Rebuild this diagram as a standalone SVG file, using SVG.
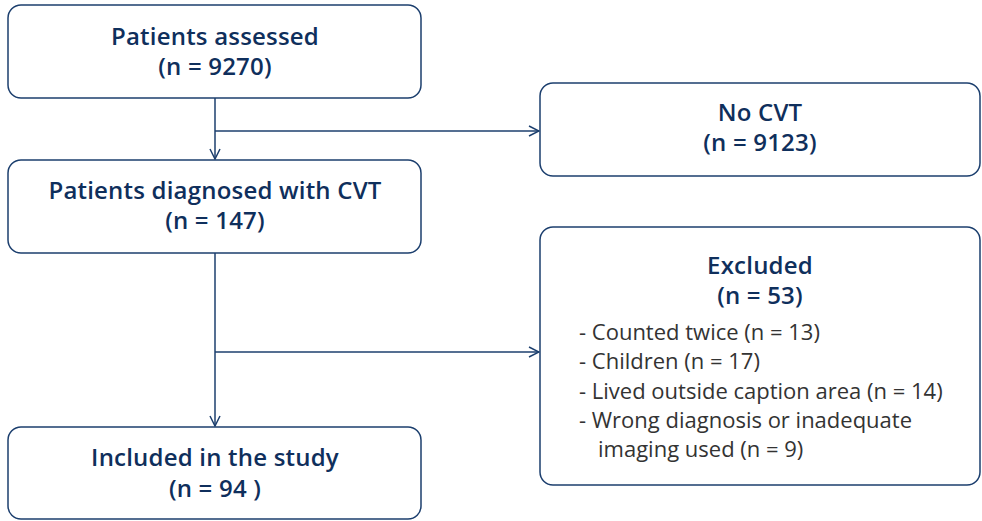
<svg xmlns="http://www.w3.org/2000/svg" width="982" height="521" viewBox="0 0 982 521">
<defs>
<style>
.box{fill:#fff;stroke:#1c3f6e;stroke-width:1.5}
.t{font-family:"Open Sans","Noto Sans",sans-serif;font-size:24px;font-weight:600;letter-spacing:0.2px;fill:#0f2f5c;text-anchor:middle}
.b{font-family:"Open Sans","Noto Sans",sans-serif;font-size:22px;font-weight:400;fill:#333}
.c{fill:none;stroke:#1c3f6e;stroke-width:1.5}
</style>
<marker id="ah" viewBox="0 0 12 12" refX="11" refY="6" markerWidth="12" markerHeight="12" markerUnits="userSpaceOnUse" orient="auto">
<path d="M1,1 L11,6 L1,11" fill="none" stroke="#1c3f6e" stroke-width="1.5"/>
</marker>
</defs>
<rect width="982" height="521" fill="#fff"/>
<g id="connectors">
<path class="c" d="M215,98 V159" marker-end="url(#ah)"/>
<path class="c" d="M215,131 H539" marker-end="url(#ah)"/>
<path class="c" d="M215,253 V426" marker-end="url(#ah)"/>
<path class="c" d="M215,352 H539" marker-end="url(#ah)"/>
</g>
<g id="assessed">
<rect class="box" x="8" y="5" width="413" height="93" rx="13"/>
<text class="t" x="215" y="45">Patients assessed</text>
<text class="t" x="215" y="75">(n = 9270)</text>
</g>
<g id="nocvt">
<rect class="box" x="540" y="83" width="440" height="93" rx="13"/>
<text class="t" x="760" y="121">No CVT</text>
<text class="t" x="760" y="151">(n = 9123)</text>
</g>
<g id="diagnosed">
<rect class="box" x="8" y="160" width="413" height="93" rx="13"/>
<text class="t" x="215" y="199">Patients diagnosed with CVT</text>
<text class="t" x="215" y="229">(n = 147)</text>
</g>
<g id="excluded">
<rect class="box" x="540" y="227" width="440" height="258" rx="13"/>
<text class="t" x="760" y="274">Excluded</text>
<text class="t" x="760" y="304">(n = 53)</text>
<text class="b" x="579" y="340">- Counted twice (n = 13)</text>
<text class="b" x="579" y="369">- Children (n = 17)</text>
<text class="b" x="579" y="399">- Lived outside caption area (n = 14)</text>
<text class="b" x="579" y="428">- Wrong diagnosis or inadequate</text>
<text class="b" x="598" y="457">imaging used (n = 9)</text>
</g>
<g id="included">
<rect class="box" x="8" y="427" width="413" height="92" rx="13"/>
<text class="t" x="215" y="466">Included in the study</text>
<text class="t" x="215" y="497">(n = 94 )</text>
</g>
</svg>
